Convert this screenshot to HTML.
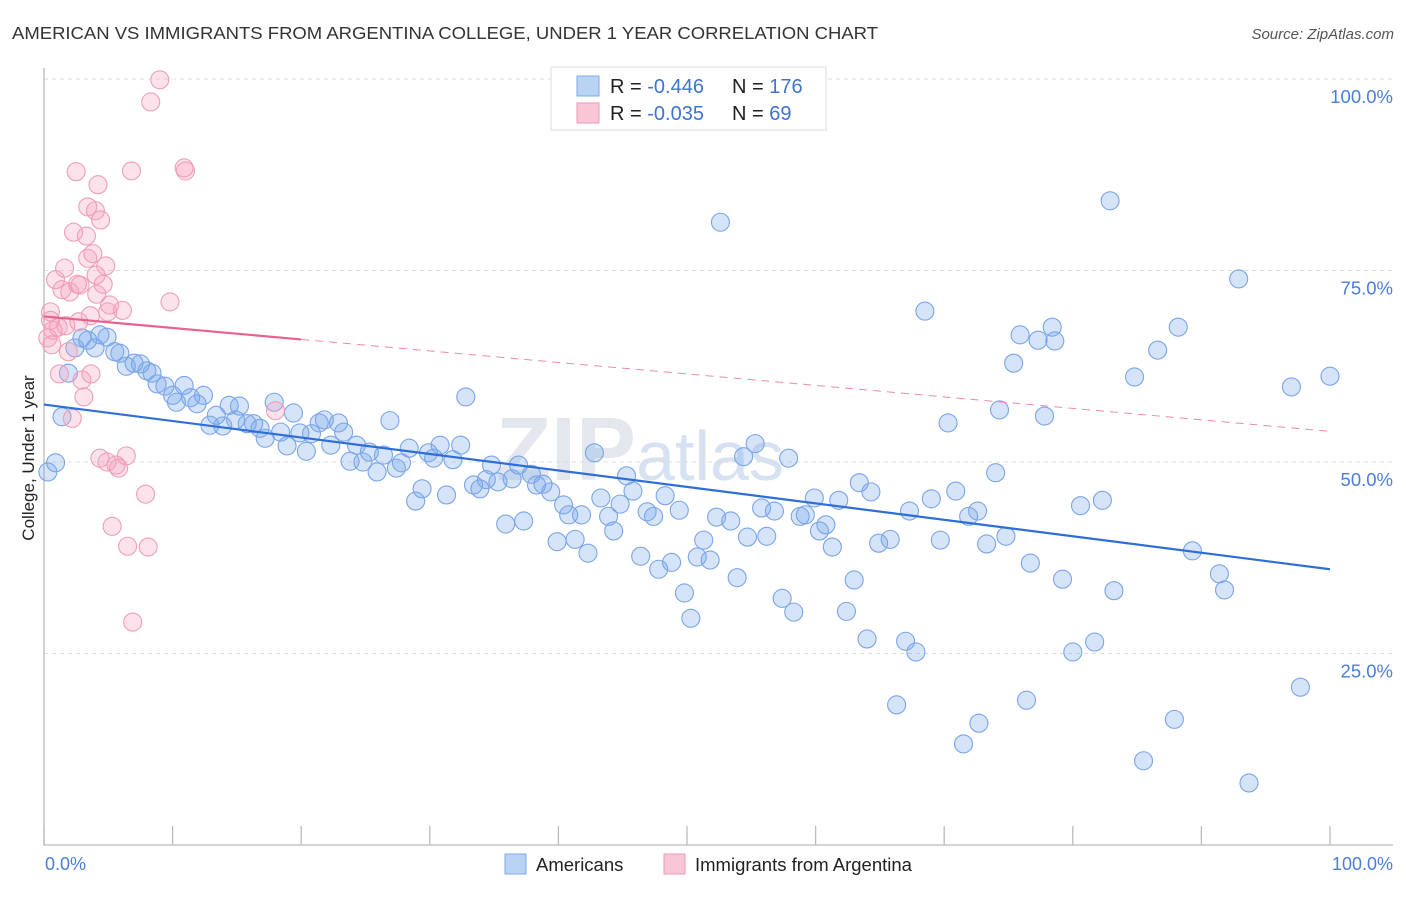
<!DOCTYPE html>
<html><head><meta charset="utf-8"><style>
body{margin:0;background:#fff;font-family:"Liberation Sans",sans-serif}
svg text{font-family:"Liberation Sans",sans-serif}
</style></head><body>
<svg id="chart" width="1406" height="892" xmlns="http://www.w3.org/2000/svg">
<text x="12" y="39" font-size="17.5" fill="#333" textLength="866" lengthAdjust="spacingAndGlyphs">AMERICAN VS IMMIGRANTS FROM ARGENTINA COLLEGE, UNDER 1 YEAR CORRELATION CHART</text>
<text x="1394" y="39" font-size="15" fill="#555" font-style="italic" text-anchor="end">Source: ZipAtlas.com</text>
<text x="640" y="480" font-size="90" fill="#e4e8ee" font-family="Liberation Serif" font-weight="bold" text-anchor="middle">ZIP<tspan fill="#d6e2f2" font-family="Liberation Sans" font-weight="normal" font-size="70">atlas</tspan></text>
<g id="grid"></g>
<g id="axes"></g>
<g id="pts"></g>
<g id="trend"></g>
<text transform="translate(34,458) rotate(-90)" font-size="17" fill="#222" text-anchor="middle">College, Under 1 year</text>
<text x="45" y="870" font-size="18" fill="#4a7fd6">0.0%</text>
<text x="1393" y="870" font-size="18" fill="#4a7fd6" text-anchor="end">100.0%</text>
<g>
<rect x="551" y="67" width="275" height="63" fill="#fff" stroke="#ddd"/>
<rect x="577" y="76" width="22" height="20" fill="#b9d3f5" stroke="#7ea9e8"/>
<rect x="577" y="103" width="22" height="20" fill="#f8c6d4" stroke="#ee9ab5"/>
<text x="610" y="93" font-size="20" fill="#222">R = <tspan fill="#3d74d0">-0.446</tspan></text>
<text x="732" y="93" font-size="20" fill="#222">N = <tspan fill="#3d74d0">176</tspan></text>
<text x="610" y="120" font-size="20" fill="#222">R = <tspan fill="#3d74d0">-0.035</tspan></text>
<text x="732" y="120" font-size="20" fill="#222">N = <tspan fill="#3d74d0"> 69</tspan></text>
</g>
<g>
<rect x="505" y="854" width="21" height="20" fill="#b9d3f5" stroke="#7ea9e8"/>
<text x="536" y="871" font-size="18.5" fill="#222">Americans</text>
<rect x="664" y="854" width="21" height="20" fill="#f8c6d4" stroke="#ee9ab5"/>
<text x="695" y="871" font-size="18.5" fill="#222">Immigrants from Argentina</text>
</g>
</svg>
<script>
const yTicks=[25,50,75,100];
const yTickLabels=["25.0%","50.0%","75.0%","100.0%"];
const xTicks=[0,10,20,30,40,50,60,70,80,90,100];
const blueX=[0.3,0.9,1.4,1.9,2.4,2.95,3.4,3.97,4.35,4.9,5.5,5.9,6.4,7.0,7.5,8.0,8.4,8.8,9.4,10.0,10.3,10.9,11.4,11.9,12.4,12.9,13.4,13.9,14.4,14.9,15.2,15.8,16.3,16.8,17.2,17.9,18.4,18.9,19.4,19.9,20.4,20.8,21.4,21.8,22.3,22.9,23.3,23.8,24.3,24.8,25.3,25.9,26.4,26.9,27.4,27.8,28.4,28.9,29.4,29.9,30.3,30.8,31.3,31.8,32.4,32.8,33.4,33.9,34.4,34.8,35.3,35.9,36.4,36.9,37.3,37.9,38.3,38.8,39.4,39.9,40.4,40.8,41.3,41.8,42.3,42.8,43.3,43.9,44.3,44.8,45.3,45.8,46.4,46.9,47.4,47.8,48.3,48.8,49.4,49.8,50.3,50.8,51.3,51.8,52.3,52.6,53.4,53.9,54.4,54.7,55.3,55.8,56.2,56.8,57.4,57.9,58.3,58.8,59.2,59.9,60.3,60.8,61.3,61.8,62.4,63.0,63.4,64.0,64.3,64.9,65.8,66.3,67.0,67.3,67.8,68.5,69.0,69.7,70.3,70.9,71.5,71.9,72.6,72.7,73.3,74.0,74.3,74.8,75.4,75.9,76.4,76.7,77.3,77.8,78.4,78.6,79.2,80.0,80.6,81.7,82.3,82.9,83.2,84.8,85.5,86.6,87.9,88.2,89.3,91.4,91.8,92.9,93.7,97.0,97.7,100];
const blueY=[48.7,49.9,55.9,61.6,64.9,66.2,65.9,64.9,66.6,66.3,64.4,64.2,62.5,62.9,62.8,61.9,61.6,60.2,59.9,58.7,57.8,60.0,58.4,57.6,58.7,54.8,56.1,54.7,57.4,55.5,57.3,55.0,55.0,54.4,53.1,57.8,53.9,52.1,56.4,53.8,51.4,53.7,55.1,55.5,52.2,55.1,53.9,50.1,52.2,50.0,51.3,48.7,50.9,55.4,49.2,49.9,51.8,44.9,46.5,51.2,50.5,52.2,45.7,50.3,52.2,58.5,47.0,46.5,47.7,49.6,47.4,41.9,47.8,49.6,42.3,48.4,47.0,47.1,46.1,39.6,44.4,43.1,39.9,43.1,38.1,51.2,45.3,42.9,41.0,44.5,48.2,46.2,37.7,43.5,42.9,36.0,45.6,36.9,43.7,32.9,29.6,37.6,39.8,37.2,42.8,81.3,42.3,34.9,50.7,40.2,52.4,44.0,40.3,43.6,32.2,50.5,30.4,42.9,43.1,45.3,41.0,41.8,38.9,45.0,30.5,34.6,47.3,26.9,46.1,39.4,39.9,18.3,26.6,43.6,25.2,69.7,45.2,39.8,55.1,46.2,13.2,42.9,43.6,15.9,39.3,48.6,56.8,40.3,62.9,66.6,18.9,36.8,65.9,56.0,67.6,65.8,34.7,25.2,44.3,26.5,45.0,84.1,33.2,61.1,11.0,64.6,16.4,67.6,38.4,35.4,33.3,73.9,8.1,59.8,20.6,61.2];
const pinkX=[0.5,0.5,0.7,0.3,0.6,0.9,1.1,1.2,1.4,1.6,1.7,1.9,2.0,2.2,2.3,2.5,2.6,2.7,2.8,2.95,3.1,3.3,3.4,3.4,3.6,3.65,3.8,4.0,4.05,4.1,4.2,4.35,4.4,4.6,4.8,4.9,4.95,5.1,5.3,5.6,5.8,6.1,6.4,6.5,6.8,6.9,7.9,8.1,8.3,9.0,9.8,10.9,11.0,18.0];
const pinkY=[69.6,68.5,67.2,66.2,65.3,73.8,67.6,61.5,72.5,75.3,67.8,64.4,72.2,55.7,80.0,87.9,73.2,68.3,73.1,60.7,58.5,79.5,76.6,83.3,69.1,61.5,77.2,82.8,74.4,71.9,86.2,50.5,81.6,73.2,75.6,50.0,69.6,70.5,41.6,49.6,49.2,69.8,50.8,39.0,88.0,29.1,45.8,38.9,97.0,99.9,70.9,88.4,88.0,56.7];
const blueTrend=[57.5,36.0];
const pinkTrend=[69.0,66.0,54.0];

const X0=44,X1=1330,YB=845,YT=79;
const sx=v=>X0+(X1-X0)*v/100;
const sy=v=>YB-(YB-YT)*v/100;
const NS="http://www.w3.org/2000/svg";
function mk(tag,parent,attrs){const e=document.createElementNS(NS,tag);for(const k in attrs)e.setAttribute(k,attrs[k]);parent.appendChild(e);return e;}
const grid=document.getElementById('grid'),axes=document.getElementById('axes'),pts=document.getElementById('pts'),trend=document.getElementById('trend');
yTicks.forEach((t,i)=>{
  const l=mk('line',grid,{x1:X0,x2:1393,y1:sy(t),y2:sy(t),stroke:'#dcdcdc','stroke-dasharray':'4,4'});
  
  
  const tx=mk('text',grid,{x:1393,y:sy(t)+24,'font-size':18.5,fill:'#4a7fd6','text-anchor':'end'});
  tx.textContent=yTickLabels[i];
  
  
});
const ax=mk('path',axes,{d:`M${X0} 68 V${YB} H1393`,stroke:'#bbb',fill:'none','stroke-width':1.3});


xTicks.forEach(t=>{
  const l=mk('line',axes,{x1:sx(t),x2:sx(t),y1:826,y2:YB,stroke:'#bbb','stroke-width':1.3});
  
  
});
blueX.forEach((x,i)=>{
  const c=mk('circle',pts,{cx:sx(x),cy:sy(blueY[i]),r:9,fill:'rgba(120,165,235,0.3)',stroke:'#7aa5ea','stroke-width':1.1});
  
  
});
pinkX.forEach((x,i)=>{
  const c=mk('circle',pts,{cx:sx(x),cy:sy(pinkY[i]),r:9,fill:'rgba(245,160,190,0.3)',stroke:'#ef9ebb','stroke-width':1.1});
  
  
});
const bt=mk('line',trend,{x1:sx(0),y1:sy(blueTrend[0]),x2:sx(100),y2:sy(blueTrend[1]),stroke:'#2d6fd6','stroke-width':2.2});


const pt=mk('line',trend,{x1:sx(0),y1:sy(pinkTrend[0]),x2:sx(20),y2:sy(pinkTrend[1]),stroke:'#e8628e','stroke-width':2.2});


const pd=mk('line',trend,{x1:sx(20),y1:sy(pinkTrend[1]),x2:sx(100),y2:sy(pinkTrend[2]),stroke:'#ec8aaa','stroke-width':1,'stroke-dasharray':'8,6'});


</script>
</body></html>
